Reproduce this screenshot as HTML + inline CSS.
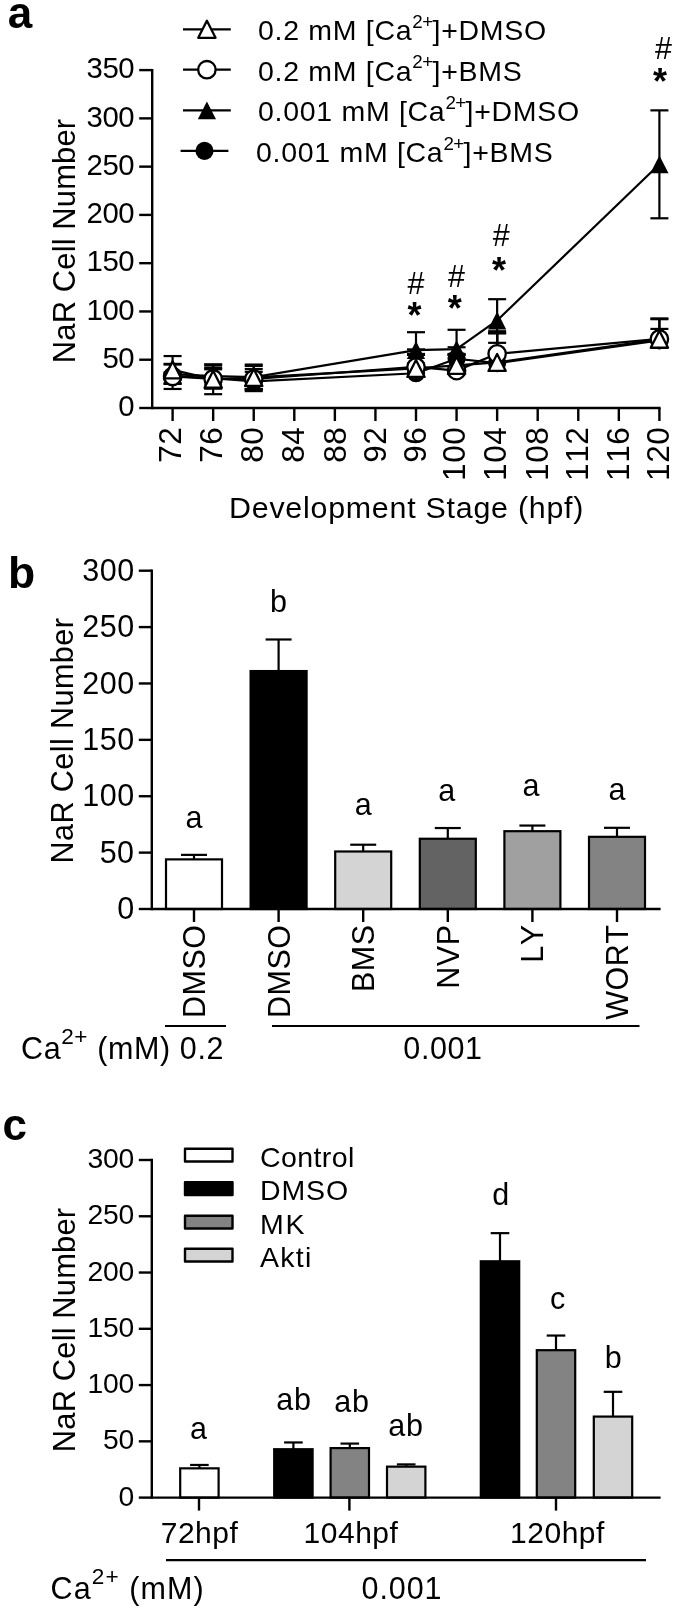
<!DOCTYPE html>
<html><head><meta charset="utf-8"><title>Figure</title>
<style>html,body{margin:0;padding:0;background:#fff}svg{display:block;filter:grayscale(100%)}text{font-family:"Liberation Sans",sans-serif;fill:#000}</style>
</head><body>
<svg width="675" height="1609" viewBox="0 0 675 1609">
<rect width="675" height="1609" fill="#fff"/>
<text x="7.7" y="27.9" font-size="44" text-anchor="start" font-weight="bold" >a</text>
<line x1="152.2" y1="68.89999999999999" x2="152.2" y2="409.2" stroke="#000" stroke-width="2.4" />
<line x1="152.2" y1="408" x2="660.6" y2="408" stroke="#000" stroke-width="2.4" />
<line x1="139.2" y1="408.0" x2="152.2" y2="408.0" stroke="#000" stroke-width="2.4" />
<text x="134.0" y="416.3" font-size="29.3" text-anchor="end" font-weight="normal" letter-spacing="-0.5" >0</text>
<line x1="139.2" y1="359.7285714285714" x2="152.2" y2="359.7285714285714" stroke="#000" stroke-width="2.4" />
<text x="134.0" y="368.0285714285714" font-size="29.3" text-anchor="end" font-weight="normal" letter-spacing="-0.5" >50</text>
<line x1="139.2" y1="311.45714285714286" x2="152.2" y2="311.45714285714286" stroke="#000" stroke-width="2.4" />
<text x="134.0" y="319.75714285714287" font-size="29.3" text-anchor="end" font-weight="normal" letter-spacing="-0.5" >100</text>
<line x1="139.2" y1="263.1857142857143" x2="152.2" y2="263.1857142857143" stroke="#000" stroke-width="2.4" />
<text x="134.0" y="271.4857142857143" font-size="29.3" text-anchor="end" font-weight="normal" letter-spacing="-0.5" >150</text>
<line x1="139.2" y1="214.9142857142857" x2="152.2" y2="214.9142857142857" stroke="#000" stroke-width="2.4" />
<text x="134.0" y="223.21428571428572" font-size="29.3" text-anchor="end" font-weight="normal" letter-spacing="-0.5" >200</text>
<line x1="139.2" y1="166.64285714285714" x2="152.2" y2="166.64285714285714" stroke="#000" stroke-width="2.4" />
<text x="134.0" y="174.94285714285715" font-size="29.3" text-anchor="end" font-weight="normal" letter-spacing="-0.5" >250</text>
<line x1="139.2" y1="118.37142857142857" x2="152.2" y2="118.37142857142857" stroke="#000" stroke-width="2.4" />
<text x="134.0" y="126.67142857142856" font-size="29.3" text-anchor="end" font-weight="normal" letter-spacing="-0.5" >300</text>
<line x1="139.2" y1="70.10000000000002" x2="152.2" y2="70.10000000000002" stroke="#000" stroke-width="2.4" />
<text x="134.0" y="78.40000000000002" font-size="29.3" text-anchor="end" font-weight="normal" letter-spacing="-0.5" >350</text>
<line x1="172.6" y1="408" x2="172.6" y2="421" stroke="#000" stroke-width="2.4" />
<text x="181.0" y="426.6" font-size="31.5" text-anchor="end" font-weight="normal" letter-spacing="0.6" transform="rotate(-90 181.0 426.6)" style="font-kerning:none">72</text>
<line x1="213.16666666666666" y1="408" x2="213.16666666666666" y2="421" stroke="#000" stroke-width="2.4" />
<text x="221.56666666666666" y="426.6" font-size="31.5" text-anchor="end" font-weight="normal" letter-spacing="0.6" transform="rotate(-90 221.56666666666666 426.6)" style="font-kerning:none">76</text>
<line x1="253.73333333333332" y1="408" x2="253.73333333333332" y2="421" stroke="#000" stroke-width="2.4" />
<text x="262.8333333333333" y="426.6" font-size="31.5" text-anchor="end" font-weight="normal" letter-spacing="0.6" transform="rotate(-90 262.8333333333333 426.6)" style="font-kerning:none">80</text>
<line x1="294.29999999999995" y1="408" x2="294.29999999999995" y2="421" stroke="#000" stroke-width="2.4" />
<text x="304.19999999999993" y="426.6" font-size="31.5" text-anchor="end" font-weight="normal" letter-spacing="0.6" transform="rotate(-90 304.19999999999993 426.6)" style="font-kerning:none">84</text>
<line x1="334.8666666666667" y1="408" x2="334.8666666666667" y2="421" stroke="#000" stroke-width="2.4" />
<text x="346.26666666666665" y="426.6" font-size="31.5" text-anchor="end" font-weight="normal" letter-spacing="0.6" transform="rotate(-90 346.26666666666665 426.6)" style="font-kerning:none">88</text>
<line x1="375.43333333333334" y1="408" x2="375.43333333333334" y2="421" stroke="#000" stroke-width="2.4" />
<text x="385.8333333333333" y="426.6" font-size="31.5" text-anchor="end" font-weight="normal" letter-spacing="0.6" transform="rotate(-90 385.8333333333333 426.6)" style="font-kerning:none">92</text>
<line x1="416.0" y1="408" x2="416.0" y2="421" stroke="#000" stroke-width="2.4" />
<text x="425.9" y="426.6" font-size="31.5" text-anchor="end" font-weight="normal" letter-spacing="0.6" transform="rotate(-90 425.9 426.6)" style="font-kerning:none">96</text>
<line x1="456.5666666666666" y1="408" x2="456.5666666666666" y2="421" stroke="#000" stroke-width="2.4" />
<text x="464.9666666666666" y="426.6" font-size="31.5" text-anchor="end" font-weight="normal" letter-spacing="0.6" transform="rotate(-90 464.9666666666666 426.6)" style="font-kerning:none">100</text>
<line x1="497.1333333333333" y1="408" x2="497.1333333333333" y2="421" stroke="#000" stroke-width="2.4" />
<text x="505.5333333333333" y="426.6" font-size="31.5" text-anchor="end" font-weight="normal" letter-spacing="0.6" transform="rotate(-90 505.5333333333333 426.6)" style="font-kerning:none">104</text>
<line x1="537.6999999999999" y1="408" x2="537.6999999999999" y2="421" stroke="#000" stroke-width="2.4" />
<text x="548.3" y="426.6" font-size="31.5" text-anchor="end" font-weight="normal" letter-spacing="0.6" transform="rotate(-90 548.3 426.6)" style="font-kerning:none">108</text>
<line x1="578.2666666666667" y1="408" x2="578.2666666666667" y2="421" stroke="#000" stroke-width="2.4" />
<text x="588.4666666666666" y="426.6" font-size="31.5" text-anchor="end" font-weight="normal" letter-spacing="0.6" transform="rotate(-90 588.4666666666666 426.6)" style="font-kerning:none">112</text>
<line x1="618.8333333333333" y1="408" x2="618.8333333333333" y2="421" stroke="#000" stroke-width="2.4" />
<text x="629.2333333333332" y="426.6" font-size="31.5" text-anchor="end" font-weight="normal" letter-spacing="0.6" transform="rotate(-90 629.2333333333332 426.6)" style="font-kerning:none">116</text>
<line x1="659.4" y1="408" x2="659.4" y2="421" stroke="#000" stroke-width="2.4" />
<text x="668.8" y="426.6" font-size="31.5" text-anchor="end" font-weight="normal" letter-spacing="0.6" transform="rotate(-90 668.8 426.6)" style="font-kerning:none">120</text>
<text x="406.6" y="518" font-size="30.4" text-anchor="middle" font-weight="normal" letter-spacing="0.75" >Development Stage (hpf)</text>
<text x="74.6" y="241" font-size="31" text-anchor="middle" font-weight="normal" letter-spacing="0.1" transform="rotate(-90 74.6 241)" >NaR Cell Number</text>
<line x1="172.60" y1="372.28" x2="172.60" y2="380.00" stroke="#000" stroke-width="2.2" />
<line x1="163.60" y1="372.28" x2="181.60" y2="372.28" stroke="#000" stroke-width="2.2" />
<line x1="163.60" y1="380.00" x2="181.60" y2="380.00" stroke="#000" stroke-width="2.2" />
<line x1="213.17" y1="367.93" x2="213.17" y2="388.21" stroke="#000" stroke-width="2.2" />
<line x1="204.17" y1="367.93" x2="222.17" y2="367.93" stroke="#000" stroke-width="2.2" />
<line x1="204.17" y1="388.21" x2="222.17" y2="388.21" stroke="#000" stroke-width="2.2" />
<line x1="253.73" y1="371.80" x2="253.73" y2="391.11" stroke="#000" stroke-width="2.2" />
<line x1="244.73" y1="371.80" x2="262.73" y2="371.80" stroke="#000" stroke-width="2.2" />
<line x1="244.73" y1="391.11" x2="262.73" y2="391.11" stroke="#000" stroke-width="2.2" />
<line x1="416.00" y1="353.94" x2="416.00" y2="373.24" stroke="#000" stroke-width="2.2" />
<line x1="407.00" y1="353.94" x2="425.00" y2="353.94" stroke="#000" stroke-width="2.2" />
<line x1="456.57" y1="354.90" x2="456.57" y2="358.76" stroke="#000" stroke-width="2.2" />
<line x1="447.57" y1="354.90" x2="465.57" y2="354.90" stroke="#000" stroke-width="2.2" />
<line x1="497.13" y1="333.18" x2="497.13" y2="363.11" stroke="#000" stroke-width="2.2" />
<line x1="488.13" y1="333.18" x2="506.13" y2="333.18" stroke="#000" stroke-width="2.2" />
<line x1="659.40" y1="319.18" x2="659.40" y2="340.42" stroke="#000" stroke-width="2.2" />
<line x1="650.40" y1="319.18" x2="668.40" y2="319.18" stroke="#000" stroke-width="2.2" />
<line x1="172.60" y1="364.56" x2="172.60" y2="383.86" stroke="#000" stroke-width="2.2" />
<line x1="163.60" y1="364.56" x2="181.60" y2="364.56" stroke="#000" stroke-width="2.2" />
<line x1="163.60" y1="383.86" x2="181.60" y2="383.86" stroke="#000" stroke-width="2.2" />
<line x1="213.17" y1="365.52" x2="213.17" y2="386.76" stroke="#000" stroke-width="2.2" />
<line x1="204.17" y1="365.52" x2="222.17" y2="365.52" stroke="#000" stroke-width="2.2" />
<line x1="204.17" y1="386.76" x2="222.17" y2="386.76" stroke="#000" stroke-width="2.2" />
<line x1="253.73" y1="364.56" x2="253.73" y2="389.66" stroke="#000" stroke-width="2.2" />
<line x1="244.73" y1="364.56" x2="262.73" y2="364.56" stroke="#000" stroke-width="2.2" />
<line x1="244.73" y1="389.66" x2="262.73" y2="389.66" stroke="#000" stroke-width="2.2" />
<line x1="416.00" y1="332.21" x2="416.00" y2="354.90" stroke="#000" stroke-width="2.2" />
<line x1="407.00" y1="332.21" x2="425.00" y2="332.21" stroke="#000" stroke-width="2.2" />
<line x1="407.00" y1="354.90" x2="425.00" y2="354.90" stroke="#000" stroke-width="2.2" />
<line x1="456.57" y1="329.80" x2="456.57" y2="353.94" stroke="#000" stroke-width="2.2" />
<line x1="447.57" y1="329.80" x2="465.57" y2="329.80" stroke="#000" stroke-width="2.2" />
<line x1="447.57" y1="353.94" x2="465.57" y2="353.94" stroke="#000" stroke-width="2.2" />
<line x1="497.13" y1="299.20" x2="497.13" y2="342.83" stroke="#000" stroke-width="2.2" />
<line x1="488.13" y1="299.20" x2="506.13" y2="299.20" stroke="#000" stroke-width="2.2" />
<line x1="488.13" y1="342.83" x2="506.13" y2="342.83" stroke="#000" stroke-width="2.2" />
<line x1="659.40" y1="110.36" x2="659.40" y2="218.29" stroke="#000" stroke-width="2.2" />
<line x1="650.40" y1="110.36" x2="668.40" y2="110.36" stroke="#000" stroke-width="2.2" />
<line x1="650.40" y1="218.29" x2="668.40" y2="218.29" stroke="#000" stroke-width="2.2" />
<line x1="172.60" y1="363.88" x2="172.60" y2="388.98" stroke="#000" stroke-width="2.2" />
<line x1="163.60" y1="363.88" x2="181.60" y2="363.88" stroke="#000" stroke-width="2.2" />
<line x1="163.60" y1="388.98" x2="181.60" y2="388.98" stroke="#000" stroke-width="2.2" />
<line x1="213.17" y1="369.29" x2="213.17" y2="388.59" stroke="#000" stroke-width="2.2" />
<line x1="204.17" y1="369.29" x2="222.17" y2="369.29" stroke="#000" stroke-width="2.2" />
<line x1="204.17" y1="388.59" x2="222.17" y2="388.59" stroke="#000" stroke-width="2.2" />
<line x1="253.73" y1="369.00" x2="253.73" y2="389.08" stroke="#000" stroke-width="2.2" />
<line x1="244.73" y1="369.00" x2="262.73" y2="369.00" stroke="#000" stroke-width="2.2" />
<line x1="244.73" y1="389.08" x2="262.73" y2="389.08" stroke="#000" stroke-width="2.2" />
<line x1="416.00" y1="349.40" x2="416.00" y2="366.97" stroke="#000" stroke-width="2.2" />
<line x1="407.00" y1="349.40" x2="425.00" y2="349.40" stroke="#000" stroke-width="2.2" />
<line x1="456.57" y1="354.90" x2="456.57" y2="370.64" stroke="#000" stroke-width="2.2" />
<line x1="447.57" y1="354.90" x2="465.57" y2="354.90" stroke="#000" stroke-width="2.2" />
<line x1="497.13" y1="331.25" x2="497.13" y2="353.84" stroke="#000" stroke-width="2.2" />
<line x1="488.13" y1="331.25" x2="506.13" y2="331.25" stroke="#000" stroke-width="2.2" />
<line x1="659.40" y1="318.41" x2="659.40" y2="338.97" stroke="#000" stroke-width="2.2" />
<line x1="650.40" y1="318.41" x2="668.40" y2="318.41" stroke="#000" stroke-width="2.2" />
<line x1="172.60" y1="356.06" x2="172.60" y2="383.67" stroke="#000" stroke-width="2.2" />
<line x1="163.60" y1="356.06" x2="181.60" y2="356.06" stroke="#000" stroke-width="2.2" />
<line x1="163.60" y1="383.67" x2="181.60" y2="383.67" stroke="#000" stroke-width="2.2" />
<line x1="213.17" y1="364.27" x2="213.17" y2="394.19" stroke="#000" stroke-width="2.2" />
<line x1="204.17" y1="364.27" x2="222.17" y2="364.27" stroke="#000" stroke-width="2.2" />
<line x1="204.17" y1="394.19" x2="222.17" y2="394.19" stroke="#000" stroke-width="2.2" />
<line x1="253.73" y1="365.91" x2="253.73" y2="389.08" stroke="#000" stroke-width="2.2" />
<line x1="244.73" y1="365.91" x2="262.73" y2="365.91" stroke="#000" stroke-width="2.2" />
<line x1="244.73" y1="389.08" x2="262.73" y2="389.08" stroke="#000" stroke-width="2.2" />
<line x1="416.00" y1="363.59" x2="416.00" y2="368.42" stroke="#000" stroke-width="2.2" />
<line x1="407.00" y1="363.59" x2="425.00" y2="363.59" stroke="#000" stroke-width="2.2" />
<line x1="456.57" y1="347.27" x2="456.57" y2="365.33" stroke="#000" stroke-width="2.2" />
<line x1="447.57" y1="347.27" x2="465.57" y2="347.27" stroke="#000" stroke-width="2.2" />
<line x1="497.13" y1="333.28" x2="497.13" y2="362.43" stroke="#000" stroke-width="2.2" />
<line x1="488.13" y1="333.28" x2="506.13" y2="333.28" stroke="#000" stroke-width="2.2" />
<line x1="659.40" y1="328.93" x2="659.40" y2="339.26" stroke="#000" stroke-width="2.2" />
<line x1="650.40" y1="328.93" x2="668.40" y2="328.93" stroke="#000" stroke-width="2.2" />
<polyline points="172.60,376.14 213.17,378.07 253.73,381.45 416.00,373.24 456.57,358.76 497.13,363.11 659.40,340.42" fill="none" stroke="#000" stroke-width="2.2" stroke-linejoin="round"/>
<polyline points="172.60,374.21 213.17,376.14 253.73,377.11 416.00,350.07 456.57,349.11 497.13,320.44 659.40,164.33" fill="none" stroke="#000" stroke-width="2.2" stroke-linejoin="round"/>
<polyline points="172.60,376.43 213.17,378.94 253.73,379.04 416.00,366.97 456.57,370.64 497.13,353.84 659.40,338.97" fill="none" stroke="#000" stroke-width="2.2" stroke-linejoin="round"/>
<polyline points="172.60,369.87 213.17,379.23 253.73,377.49 416.00,368.42 456.57,365.33 497.13,362.43 659.40,339.26" fill="none" stroke="#000" stroke-width="2.2" stroke-linejoin="round"/>
<circle cx="172.60" cy="376.14" r="9.05" fill="#000"/>
<circle cx="213.17" cy="378.07" r="9.05" fill="#000"/>
<circle cx="253.73" cy="381.45" r="9.05" fill="#000"/>
<circle cx="416.00" cy="373.24" r="9.05" fill="#000"/>
<circle cx="456.57" cy="358.76" r="9.05" fill="#000"/>
<circle cx="497.13" cy="363.11" r="9.05" fill="#000"/>
<circle cx="659.40" cy="340.42" r="9.05" fill="#000"/>
<polygon points="172.60,365.26 163.50,383.16 181.70,383.16" fill="#000"/>
<polygon points="213.17,367.19 204.07,385.09 222.27,385.09" fill="#000"/>
<polygon points="253.73,368.16 244.63,386.06 262.83,386.06" fill="#000"/>
<polygon points="416.00,341.12 406.90,359.02 425.10,359.02" fill="#000"/>
<polygon points="456.57,340.16 447.47,358.06 465.67,358.06" fill="#000"/>
<polygon points="497.13,311.49 488.03,329.39 506.23,329.39" fill="#000"/>
<polygon points="659.40,155.38 650.30,173.28 668.50,173.28" fill="#000"/>
<circle cx="172.60" cy="376.43" r="8.7" fill="#fff" stroke="#000" stroke-width="2.3"/>
<circle cx="213.17" cy="378.94" r="8.7" fill="#fff" stroke="#000" stroke-width="2.3"/>
<circle cx="253.73" cy="379.04" r="8.7" fill="#fff" stroke="#000" stroke-width="2.3"/>
<circle cx="416.00" cy="366.97" r="8.7" fill="#fff" stroke="#000" stroke-width="2.3"/>
<circle cx="456.57" cy="370.64" r="8.7" fill="#fff" stroke="#000" stroke-width="2.3"/>
<circle cx="497.13" cy="353.84" r="8.7" fill="#fff" stroke="#000" stroke-width="2.3"/>
<circle cx="659.40" cy="338.97" r="8.7" fill="#fff" stroke="#000" stroke-width="2.3"/>
<polygon points="172.60,361.37 163.95,378.37 181.25,378.37" fill="#fff" stroke="#000" stroke-width="2.3" stroke-linejoin="round"/>
<polygon points="213.17,370.73 204.52,387.73 221.82,387.73" fill="#fff" stroke="#000" stroke-width="2.3" stroke-linejoin="round"/>
<polygon points="253.73,368.99 245.08,385.99 262.38,385.99" fill="#fff" stroke="#000" stroke-width="2.3" stroke-linejoin="round"/>
<polygon points="416.00,359.92 407.35,376.92 424.65,376.92" fill="#fff" stroke="#000" stroke-width="2.3" stroke-linejoin="round"/>
<polygon points="456.57,356.83 447.92,373.83 465.22,373.83" fill="#fff" stroke="#000" stroke-width="2.3" stroke-linejoin="round"/>
<polygon points="497.13,353.93 488.48,370.93 505.78,370.93" fill="#fff" stroke="#000" stroke-width="2.3" stroke-linejoin="round"/>
<polygon points="659.40,330.76 650.75,347.76 668.05,347.76" fill="#fff" stroke="#000" stroke-width="2.3" stroke-linejoin="round"/>
<text x="416.0" y="293.7" font-size="30.5" text-anchor="middle" font-weight="normal" >#</text>
<text x="414.4" y="328" font-size="36" text-anchor="middle" font-weight="bold" >*</text>
<text x="456.5666666666666" y="287" font-size="30.5" text-anchor="middle" font-weight="normal" >#</text>
<text x="454.7666666666666" y="321.3" font-size="36" text-anchor="middle" font-weight="bold" >*</text>
<text x="501.3333333333333" y="246.2" font-size="30.5" text-anchor="middle" font-weight="normal" >#</text>
<text x="498.93333333333334" y="283.1" font-size="36" text-anchor="middle" font-weight="bold" >*</text>
<text x="663.5" y="58.6" font-size="30.5" text-anchor="middle" font-weight="normal" >#</text>
<text x="660.0" y="94" font-size="36" text-anchor="middle" font-weight="bold" >*</text>
<line x1="183.0" y1="29.3" x2="230.8" y2="29.3" stroke="#000" stroke-width="2.2" />
<polygon points="206.90,20.80 198.25,37.80 215.55,37.80" fill="#fff" stroke="#000" stroke-width="2.3" stroke-linejoin="round"/>
<text x="258" y="40.3" font-size="28.5" letter-spacing="0.7">0.2 mM [Ca<tspan font-size="18.8" dy="-12.3" letter-spacing="-0.6">2+</tspan><tspan dy="12.3">]+DMSO</tspan></text>
<line x1="183.0" y1="69.7" x2="230.8" y2="69.7" stroke="#000" stroke-width="2.2" />
<circle cx="206.90" cy="69.70" r="8.7" fill="#fff" stroke="#000" stroke-width="2.3"/>
<text x="258" y="80.7" font-size="28.5" letter-spacing="0.7">0.2 mM [Ca<tspan font-size="18.8" dy="-12.3" letter-spacing="-0.6">2+</tspan><tspan dy="12.3">]+BMS</tspan></text>
<line x1="183.0" y1="110.4" x2="230.8" y2="110.4" stroke="#000" stroke-width="2.2" />
<polygon points="206.90,101.45 197.80,119.35 216.00,119.35" fill="#000"/>
<text x="258" y="121.4" font-size="28.5" letter-spacing="0.7">0.001 mM [Ca<tspan font-size="18.8" dy="-12.3" letter-spacing="-0.6">2+</tspan><tspan dy="12.3">]+DMSO</tspan></text>
<line x1="180.6" y1="150.9" x2="228.4" y2="150.9" stroke="#000" stroke-width="2.2" />
<circle cx="204.50" cy="150.90" r="9.05" fill="#000"/>
<text x="256" y="161.9" font-size="28.5" letter-spacing="0.7">0.001 mM [Ca<tspan font-size="18.8" dy="-12.3" letter-spacing="-0.6">2+</tspan><tspan dy="12.3">]+BMS</tspan></text>
<text x="8.0" y="588.3" font-size="44.5" text-anchor="start" font-weight="bold" >b</text>
<line x1="151.8" y1="569.5" x2="151.8" y2="910.2" stroke="#000" stroke-width="2.4" />
<line x1="138.8" y1="909.0" x2="151.8" y2="909.0" stroke="#000" stroke-width="2.4" />
<text x="134.6" y="919.2" font-size="30.5" text-anchor="end" font-weight="normal" letter-spacing="0.5" >0</text>
<line x1="138.8" y1="852.6166666666667" x2="151.8" y2="852.6166666666667" stroke="#000" stroke-width="2.4" />
<text x="134.6" y="862.8166666666667" font-size="30.5" text-anchor="end" font-weight="normal" letter-spacing="0.5" >50</text>
<line x1="138.8" y1="796.2333333333333" x2="151.8" y2="796.2333333333333" stroke="#000" stroke-width="2.4" />
<text x="134.6" y="806.4333333333334" font-size="30.5" text-anchor="end" font-weight="normal" letter-spacing="0.5" >100</text>
<line x1="138.8" y1="739.85" x2="151.8" y2="739.85" stroke="#000" stroke-width="2.4" />
<text x="134.6" y="750.0500000000001" font-size="30.5" text-anchor="end" font-weight="normal" letter-spacing="0.5" >150</text>
<line x1="138.8" y1="683.4666666666667" x2="151.8" y2="683.4666666666667" stroke="#000" stroke-width="2.4" />
<text x="134.6" y="693.6666666666667" font-size="30.5" text-anchor="end" font-weight="normal" letter-spacing="0.5" >200</text>
<line x1="138.8" y1="627.0833333333334" x2="151.8" y2="627.0833333333334" stroke="#000" stroke-width="2.4" />
<text x="134.6" y="637.2833333333334" font-size="30.5" text-anchor="end" font-weight="normal" letter-spacing="0.5" >250</text>
<line x1="138.8" y1="570.7" x2="151.8" y2="570.7" stroke="#000" stroke-width="2.4" />
<text x="134.6" y="580.9000000000001" font-size="30.5" text-anchor="end" font-weight="normal" letter-spacing="0.5" >300</text>
<text x="73.4" y="740.6" font-size="30.6" text-anchor="middle" font-weight="normal" letter-spacing="0.4" transform="rotate(-90 73.4 740.6)" >NaR Cell Number</text>
<line x1="194.0" y1="854.872" x2="194.0" y2="859.3826666666666" stroke="#000" stroke-width="2.2" />
<line x1="181.0" y1="854.872" x2="207.0" y2="854.872" stroke="#000" stroke-width="2.2" />
<rect x="166.00" y="859.38" width="56" height="49.62" fill="#fff" stroke="#000" stroke-width="2.2"/>
<line x1="194.0" y1="909" x2="194.0" y2="922" stroke="#000" stroke-width="2.4" />
<text x="205.0" y="924.5" font-size="30.5" text-anchor="end" font-weight="normal" letter-spacing="0.5" transform="rotate(-90 205.0 924.5)" style="font-kerning:none">DMSO</text>
<text x="194.0" y="828" font-size="30.5" text-anchor="middle" font-weight="normal" >a</text>
<line x1="278.6" y1="639.4876666666667" x2="278.6" y2="671.0623333333334" stroke="#000" stroke-width="2.2" />
<line x1="265.6" y1="639.4876666666667" x2="291.6" y2="639.4876666666667" stroke="#000" stroke-width="2.2" />
<rect x="250.60" y="671.06" width="56" height="237.94" fill="#000" stroke="#000" stroke-width="2.2"/>
<line x1="278.6" y1="909" x2="278.6" y2="922" stroke="#000" stroke-width="2.4" />
<text x="289.6" y="924.5" font-size="30.5" text-anchor="end" font-weight="normal" letter-spacing="0.5" transform="rotate(-90 289.6 924.5)" style="font-kerning:none">DMSO</text>
<text x="278.6" y="612" font-size="30.5" text-anchor="middle" font-weight="normal" >b</text>
<line x1="363.2" y1="844.723" x2="363.2" y2="851.489" stroke="#000" stroke-width="2.2" />
<line x1="350.2" y1="844.723" x2="376.2" y2="844.723" stroke="#000" stroke-width="2.2" />
<rect x="335.20" y="851.49" width="56" height="57.51" fill="#d4d4d4" stroke="#000" stroke-width="2.2"/>
<line x1="363.2" y1="909" x2="363.2" y2="922" stroke="#000" stroke-width="2.4" />
<text x="374.2" y="924.5" font-size="30.5" text-anchor="end" font-weight="normal" letter-spacing="0.5" transform="rotate(-90 374.2 924.5)" style="font-kerning:none">BMS</text>
<text x="363.2" y="815" font-size="30.5" text-anchor="middle" font-weight="normal" >a</text>
<line x1="447.79999999999995" y1="828.0335333333334" x2="447.79999999999995" y2="838.7463666666666" stroke="#000" stroke-width="2.2" />
<line x1="434.79999999999995" y1="828.0335333333334" x2="460.79999999999995" y2="828.0335333333334" stroke="#000" stroke-width="2.2" />
<rect x="419.80" y="838.75" width="56" height="70.25" fill="#636363" stroke="#000" stroke-width="2.2"/>
<line x1="447.79999999999995" y1="909" x2="447.79999999999995" y2="922" stroke="#000" stroke-width="2.4" />
<text x="458.79999999999995" y="924.5" font-size="30.5" text-anchor="end" font-weight="normal" letter-spacing="0.5" transform="rotate(-90 458.79999999999995 924.5)" style="font-kerning:none">NVP</text>
<text x="446.79999999999995" y="801" font-size="30.5" text-anchor="middle" font-weight="normal" >a</text>
<line x1="532.4" y1="825.5526666666667" x2="532.4" y2="831.191" stroke="#000" stroke-width="2.2" />
<line x1="519.4" y1="825.5526666666667" x2="545.4" y2="825.5526666666667" stroke="#000" stroke-width="2.2" />
<rect x="504.40" y="831.19" width="56" height="77.81" fill="#a0a0a0" stroke="#000" stroke-width="2.2"/>
<line x1="532.4" y1="909" x2="532.4" y2="922" stroke="#000" stroke-width="2.4" />
<text x="543.4" y="924.5" font-size="30.5" text-anchor="end" font-weight="normal" letter-spacing="0.5" transform="rotate(-90 543.4 924.5)" style="font-kerning:none">LY</text>
<text x="531.1" y="796" font-size="30.5" text-anchor="middle" font-weight="normal" >a</text>
<line x1="617.0" y1="827.808" x2="617.0" y2="836.8293333333334" stroke="#000" stroke-width="2.2" />
<line x1="604.0" y1="827.808" x2="630.0" y2="827.808" stroke="#000" stroke-width="2.2" />
<rect x="589.00" y="836.83" width="56" height="72.17" fill="#838383" stroke="#000" stroke-width="2.2"/>
<line x1="617.0" y1="909" x2="617.0" y2="922" stroke="#000" stroke-width="2.4" />
<text x="628.0" y="924.5" font-size="30.5" text-anchor="end" font-weight="normal" letter-spacing="0.5" transform="rotate(-90 628.0 924.5)" style="font-kerning:none">WORT</text>
<text x="617.0" y="799.5" font-size="30.5" text-anchor="middle" font-weight="normal" >a</text>
<line x1="151.8" y1="909" x2="660.6" y2="909" stroke="#000" stroke-width="2.4" />
<line x1="165" y1="1026" x2="226" y2="1026" stroke="#000" stroke-width="2.2" />
<line x1="272" y1="1026" x2="639.5" y2="1026" stroke="#000" stroke-width="2.2" />
<text x="21" y="1058.8" font-size="30.5" letter-spacing="0.6">Ca<tspan font-size="22.6" dy="-15.2">2+</tspan><tspan dy="15.2"> (mM) 0.2</tspan></text>
<text x="443" y="1058.8" font-size="30.5" text-anchor="middle" font-weight="normal" letter-spacing="0.6" >0.001</text>
<text x="2.4" y="1139.8" font-size="44" text-anchor="start" font-weight="bold" >c</text>
<line x1="151.8" y1="1158.8" x2="151.8" y2="1498.8" stroke="#000" stroke-width="2.4" />
<line x1="138.8" y1="1497.6" x2="151.8" y2="1497.6" stroke="#000" stroke-width="2.4" />
<text x="134.0" y="1505.6" font-size="28.3" text-anchor="end" font-weight="normal" letter-spacing="-0.2" >0</text>
<line x1="138.8" y1="1441.3333333333333" x2="151.8" y2="1441.3333333333333" stroke="#000" stroke-width="2.4" />
<text x="134.0" y="1449.3333333333333" font-size="28.3" text-anchor="end" font-weight="normal" letter-spacing="-0.2" >50</text>
<line x1="138.8" y1="1385.0666666666666" x2="151.8" y2="1385.0666666666666" stroke="#000" stroke-width="2.4" />
<text x="134.0" y="1393.0666666666666" font-size="28.3" text-anchor="end" font-weight="normal" letter-spacing="-0.2" >100</text>
<line x1="138.8" y1="1328.8" x2="151.8" y2="1328.8" stroke="#000" stroke-width="2.4" />
<text x="134.0" y="1336.8" font-size="28.3" text-anchor="end" font-weight="normal" letter-spacing="-0.2" >150</text>
<line x1="138.8" y1="1272.5333333333333" x2="151.8" y2="1272.5333333333333" stroke="#000" stroke-width="2.4" />
<text x="134.0" y="1280.5333333333333" font-size="28.3" text-anchor="end" font-weight="normal" letter-spacing="-0.2" >200</text>
<line x1="138.8" y1="1216.2666666666667" x2="151.8" y2="1216.2666666666667" stroke="#000" stroke-width="2.4" />
<text x="134.0" y="1224.2666666666667" font-size="28.3" text-anchor="end" font-weight="normal" letter-spacing="-0.2" >250</text>
<line x1="138.8" y1="1160.0" x2="151.8" y2="1160.0" stroke="#000" stroke-width="2.4" />
<text x="134.0" y="1168.0" font-size="28.3" text-anchor="end" font-weight="normal" letter-spacing="-0.2" >300</text>
<text x="74.6" y="1330" font-size="31" text-anchor="middle" font-weight="normal" letter-spacing="0.1" transform="rotate(-90 74.6 1330)" >NaR Cell Number</text>
<line x1="199.4" y1="1464.9653333333333" x2="199.4" y2="1468.3413333333333" stroke="#000" stroke-width="2.2" />
<line x1="190.1" y1="1464.9653333333333" x2="208.70000000000002" y2="1464.9653333333333" stroke="#000" stroke-width="2.2" />
<rect x="180.20" y="1468.34" width="38.4" height="29.26" fill="#fff" stroke="#000" stroke-width="2.2"/>
<text x="199" y="1439.2" font-size="30.5" text-anchor="middle" font-weight="normal" letter-spacing="0.9" >a</text>
<line x1="293.4" y1="1442.4586666666667" x2="293.4" y2="1449.2106666666666" stroke="#000" stroke-width="2.2" />
<line x1="284.09999999999997" y1="1442.4586666666667" x2="302.7" y2="1442.4586666666667" stroke="#000" stroke-width="2.2" />
<rect x="274.20" y="1449.21" width="38.4" height="48.39" fill="#000" stroke="#000" stroke-width="2.2"/>
<text x="294" y="1410" font-size="30.5" text-anchor="middle" font-weight="normal" letter-spacing="0.9" >ab</text>
<line x1="349.8" y1="1443.5839999999998" x2="349.8" y2="1448.0853333333332" stroke="#000" stroke-width="2.2" />
<line x1="340.5" y1="1443.5839999999998" x2="359.1" y2="1443.5839999999998" stroke="#000" stroke-width="2.2" />
<rect x="330.60" y="1448.09" width="38.4" height="49.51" fill="#838383" stroke="#000" stroke-width="2.2"/>
<text x="352" y="1412" font-size="30.5" text-anchor="middle" font-weight="normal" letter-spacing="0.9" >ab</text>
<line x1="406.2" y1="1464.4026666666666" x2="406.2" y2="1466.6533333333332" stroke="#000" stroke-width="2.2" />
<line x1="396.9" y1="1464.4026666666666" x2="415.5" y2="1464.4026666666666" stroke="#000" stroke-width="2.2" />
<rect x="387.00" y="1466.65" width="38.4" height="30.95" fill="#d4d4d4" stroke="#000" stroke-width="2.2"/>
<text x="406" y="1436" font-size="30.5" text-anchor="middle" font-weight="normal" letter-spacing="0.9" >ab</text>
<line x1="500" y1="1233.1466666666665" x2="500" y2="1261.28" stroke="#000" stroke-width="2.2" />
<line x1="490.7" y1="1233.1466666666665" x2="509.3" y2="1233.1466666666665" stroke="#000" stroke-width="2.2" />
<rect x="480.80" y="1261.28" width="38.4" height="236.32" fill="#000" stroke="#000" stroke-width="2.2"/>
<text x="501.3" y="1205" font-size="30.5" text-anchor="middle" font-weight="normal" letter-spacing="0.9" >d</text>
<line x1="556" y1="1335.552" x2="556" y2="1350.1813333333332" stroke="#000" stroke-width="2.2" />
<line x1="546.7" y1="1335.552" x2="565.3" y2="1335.552" stroke="#000" stroke-width="2.2" />
<rect x="536.80" y="1350.18" width="38.4" height="147.42" fill="#838383" stroke="#000" stroke-width="2.2"/>
<text x="558" y="1309" font-size="30.5" text-anchor="middle" font-weight="normal" letter-spacing="0.9" >c</text>
<line x1="613" y1="1391.8186666666666" x2="613" y2="1416.576" stroke="#000" stroke-width="2.2" />
<line x1="603.7" y1="1391.8186666666666" x2="622.3" y2="1391.8186666666666" stroke="#000" stroke-width="2.2" />
<rect x="593.80" y="1416.58" width="38.4" height="81.02" fill="#d4d4d4" stroke="#000" stroke-width="2.2"/>
<text x="613.7" y="1367.5" font-size="30.5" text-anchor="middle" font-weight="normal" letter-spacing="0.9" >b</text>
<line x1="151.8" y1="1497.6" x2="660.6" y2="1497.6" stroke="#000" stroke-width="2.4" />
<line x1="199" y1="1497.6" x2="199" y2="1510.6" stroke="#000" stroke-width="2.4" />
<text x="199.5" y="1543" font-size="30" text-anchor="middle" font-weight="normal" letter-spacing="0.5" >72hpf</text>
<line x1="349.4" y1="1497.6" x2="349.4" y2="1510.6" stroke="#000" stroke-width="2.4" />
<text x="351" y="1543" font-size="30" text-anchor="middle" font-weight="normal" letter-spacing="0.5" >104hpf</text>
<line x1="556" y1="1497.6" x2="556" y2="1510.6" stroke="#000" stroke-width="2.4" />
<text x="557.5" y="1543" font-size="30" text-anchor="middle" font-weight="normal" letter-spacing="0.5" >120hpf</text>
<line x1="166" y1="1560.2" x2="646" y2="1560.2" stroke="#000" stroke-width="2.2" />
<text x="50.6" y="1598.8" font-size="30.5" letter-spacing="1.1">Ca<tspan font-size="22.6" dy="-15.2">2+</tspan><tspan dy="15.2"> (mM)</tspan></text>
<text x="402" y="1598.8" font-size="30.5" text-anchor="middle" font-weight="normal" letter-spacing="0.9" >0.001</text>
<rect x="185" y="1148.7" width="47.5" height="12.8" fill="#fff" stroke="#000" stroke-width="2.4" stroke-linejoin="round"/>
<text x="260" y="1166.6" font-size="28.5" text-anchor="start" font-weight="normal" letter-spacing="0.4" >Control</text>
<rect x="185" y="1182.2" width="47.5" height="12.8" fill="#000" stroke="#000" stroke-width="2.4" stroke-linejoin="round"/>
<text x="260" y="1200.1" font-size="28.5" text-anchor="start" font-weight="normal" letter-spacing="0.9" >DMSO</text>
<rect x="185" y="1215.7" width="47.5" height="12.8" fill="#838383" stroke="#000" stroke-width="2.4" stroke-linejoin="round"/>
<text x="260" y="1233.6" font-size="28.5" text-anchor="start" font-weight="normal" letter-spacing="1.8" >MK</text>
<rect x="185" y="1248.7" width="47.5" height="12.8" fill="#d4d4d4" stroke="#000" stroke-width="2.4" stroke-linejoin="round"/>
<text x="260" y="1266.6" font-size="28.5" text-anchor="start" font-weight="normal" letter-spacing="1.3" >Akti</text>
</svg>
</body></html>
